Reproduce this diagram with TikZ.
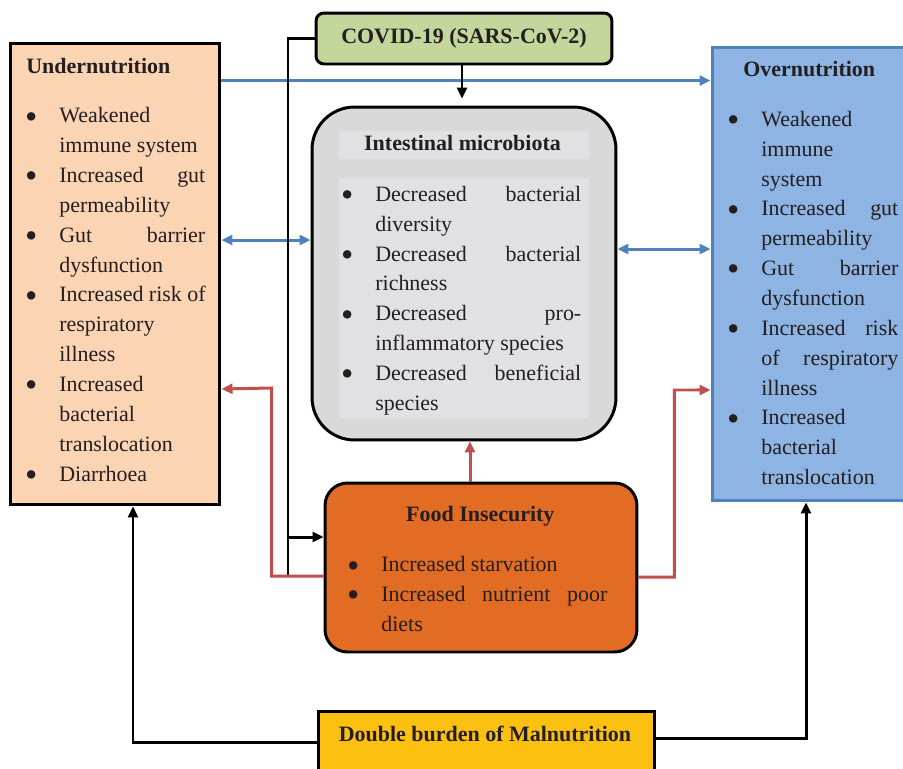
\documentclass[tikz,border=0pt]{standalone}
\usepackage{fontspec}
\setmainfont{Liberation Serif}
\usetikzlibrary{arrows.meta}
\definecolor{undercolor}{RGB}{251,212,180}
\definecolor{covidcolor}{RGB}{195,214,155}
\definecolor{overcolor}{RGB}{142,180,227}
\definecolor{overedge}{RGB}{79,129,189}
\definecolor{microcolor}{RGB}{217,217,217}
\definecolor{microinner}{RGB}{225,225,227}
\definecolor{foodcolor}{RGB}{227,108,36}
\definecolor{burdencolor}{RGB}{251,192,16}
\definecolor{redlink}{RGB}{192,80,77}
\definecolor{inkcolor}{RGB}{35,31,32}

\newlength{\bind}\setlength{\bind}{0.64cm}
\newcommand{\bul}{\makebox[\bind][l]{\hspace*{-1.2pt}\smash{\raisebox{-3pt}{\fontsize{20}{17}\selectfont\textbullet}}}}
\newcommand{\ind}{\hspace*{\bind}}
\newcommand{\jl}[2]{\makebox[#1][s]{#2}}

\begin{document}
\begin{tikzpicture}[
    x=0.02cm, y=-0.02cm,
    box/.style={rectangle, draw, line width=1.7pt, inner sep=0pt},
    title/.style={inner sep=0pt, text=inkcolor, font=\fontsize{12.5}{17}\selectfont\bfseries},
    list/.style={inner sep=0pt, anchor=north west, align=left, text=inkcolor, font=\fontsize{12.5}{17}\selectfont},
    arrow/.style={-{Triangle[length=2.2mm, width=2mm]}, line width=1.7pt},
    bluelink/.style={arrow, overedge},
    redarrow/.style={arrow, redlink},
    blackline/.style={line width=1.7pt}
]
\useasboundingbox (0,0) rectangle (903,768);

% boxes
\node[box, fill=undercolor, minimum width=4.2cm, minimum height=9.24cm] (under) at (115,274) {};
\node[box, draw=overedge, fill=overcolor, minimum width=4.16cm, minimum height=9.08cm] (over) at (816,274) {};
\node[box, fill=covidcolor, rounded corners=0.16cm, minimum width=5.92cm, minimum height=1.02cm,
      text=inkcolor, font=\fontsize{12.5}{17}\selectfont\bfseries] (covid) at (464,38.5) {COVID-19 (SARS-CoV-2)};
\node[box, fill=microcolor, rounded corners=0.85cm, minimum width=6.08cm, minimum height=6.66cm] (micro) at (464,273.5) {};
\node[box, fill=foodcolor, rounded corners=0.45cm, minimum width=6.24cm, minimum height=3.38cm] (food) at (481,567.5) {};
\node[box, fill=burdencolor, minimum width=6.74cm, minimum height=1.38cm] (burden) at (486.5,745.5) {};

\fill[microinner] (339,131) rectangle (589,159);
\fill[microinner] (339,178) rectangle (589,418);

% titles
\node[title, anchor=base west] (undertitle) at (26,73) {Undernutrition};
\node[title, anchor=base west] (overtitle) at (743,76.7) {Overnutrition};
\node[title, anchor=base] (microtitle) at (462.5,150) {Intestinal microbiota};
\node[title, anchor=base] (foodtitle) at (480.3,521) {Food Insecurity};
\node[title, anchor=base] (burdentitle) at (485,741.5) {Double burden of Malnutrition};

% lists
\node[list] (underlist) at (27,101.5) {\strut\bul Weakened\\
\ind immune system\\
\bul\jl{2.92cm}{Increased gut}\\
\ind permeability\\
\bul\jl{2.92cm}{Gut barrier}\\
\ind dysfunction\\
\bul Increased risk of\\
\ind respiratory\\
\ind illness\\
\bul Increased\\
\ind bacterial\\
\ind translocation\\
\bul Diarrhoea};
\node[list] (overlist) at (729,105) {\strut\bul Weakened\\
\ind immune\\
\ind system\\
\bul\jl{2.74cm}{Increased gut}\\
\ind permeability\\
\bul\jl{2.74cm}{Gut barrier}\\
\ind dysfunction\\
\bul\jl{2.74cm}{Increased risk}\\
\ind\jl{2.74cm}{of respiratory}\\
\ind illness\\
\bul Increased\\
\ind bacterial\\
\ind translocation};
\node[list] (microlist) at (343,180) {\strut\bul\jl{4.12cm}{Decreased bacterial}\\
\ind diversity\\
\bul\jl{4.12cm}{Decreased bacterial}\\
\ind richness\\
\bul\jl{4.12cm}{Decreased pro-}\\
\ind inflammatory species\\
\bul\jl{4.12cm}{Decreased beneficial}\\
\ind species};
\node[list] (foodlist) at (349,550.5) {\strut\bul Increased starvation\\
\bul\jl{4.52cm}{Increased nutrient poor}\\
\ind diets};

% links
\draw[bluelink] ([yshift=-0.78cm]under.north east) -- ([yshift=-0.78cm]under.north east -| over.west);
\draw[bluelink, {Triangle[length=2.2mm, width=2mm]}-{Triangle[length=2.2mm, width=2mm]}]
    ([yshift=0.68cm]under.east) -- ([yshift=0.68cm]under.east -| micro.west);
\draw[bluelink, {Triangle[length=2.2mm, width=2mm]}-{Triangle[length=2.2mm, width=2mm]}]
    ([yshift=0.49cm]micro.east) -- ([yshift=0.49cm]micro.east -| over.west);
\draw[arrow, shorten >=0.14cm] ([xshift=-0.04cm]covid.south) -- ([xshift=-0.04cm]covid.south |- micro.north);

\coordinate (spine) at (288,577);
\draw[blackline] (covid.west) -| (spine);
\draw[arrow] ([yshift=0.61cm]food.west -| spine) -- ([yshift=0.61cm]food.west);

\draw[redarrow] ([yshift=-0.17cm]food.west) -| ++(-52,-188) -- ([yshift=-2.3cm]under.east);
\draw[redarrow] ([yshift=-0.19cm]food.east) -| ++(36,-187) -- ([yshift=-2.32cm]over.west);
\draw[redarrow] ([xshift=-0.22cm]food.north) -- ([xshift=-0.22cm]food.north |- micro.south);

\draw[arrow] ([yshift=0.07cm]burden.west) -| ([xshift=0.36cm]under.south);
\draw[arrow] ([yshift=0.14cm]burden.east) -| ([xshift=-0.2cm]over.south);

\end{tikzpicture}
\end{document}
